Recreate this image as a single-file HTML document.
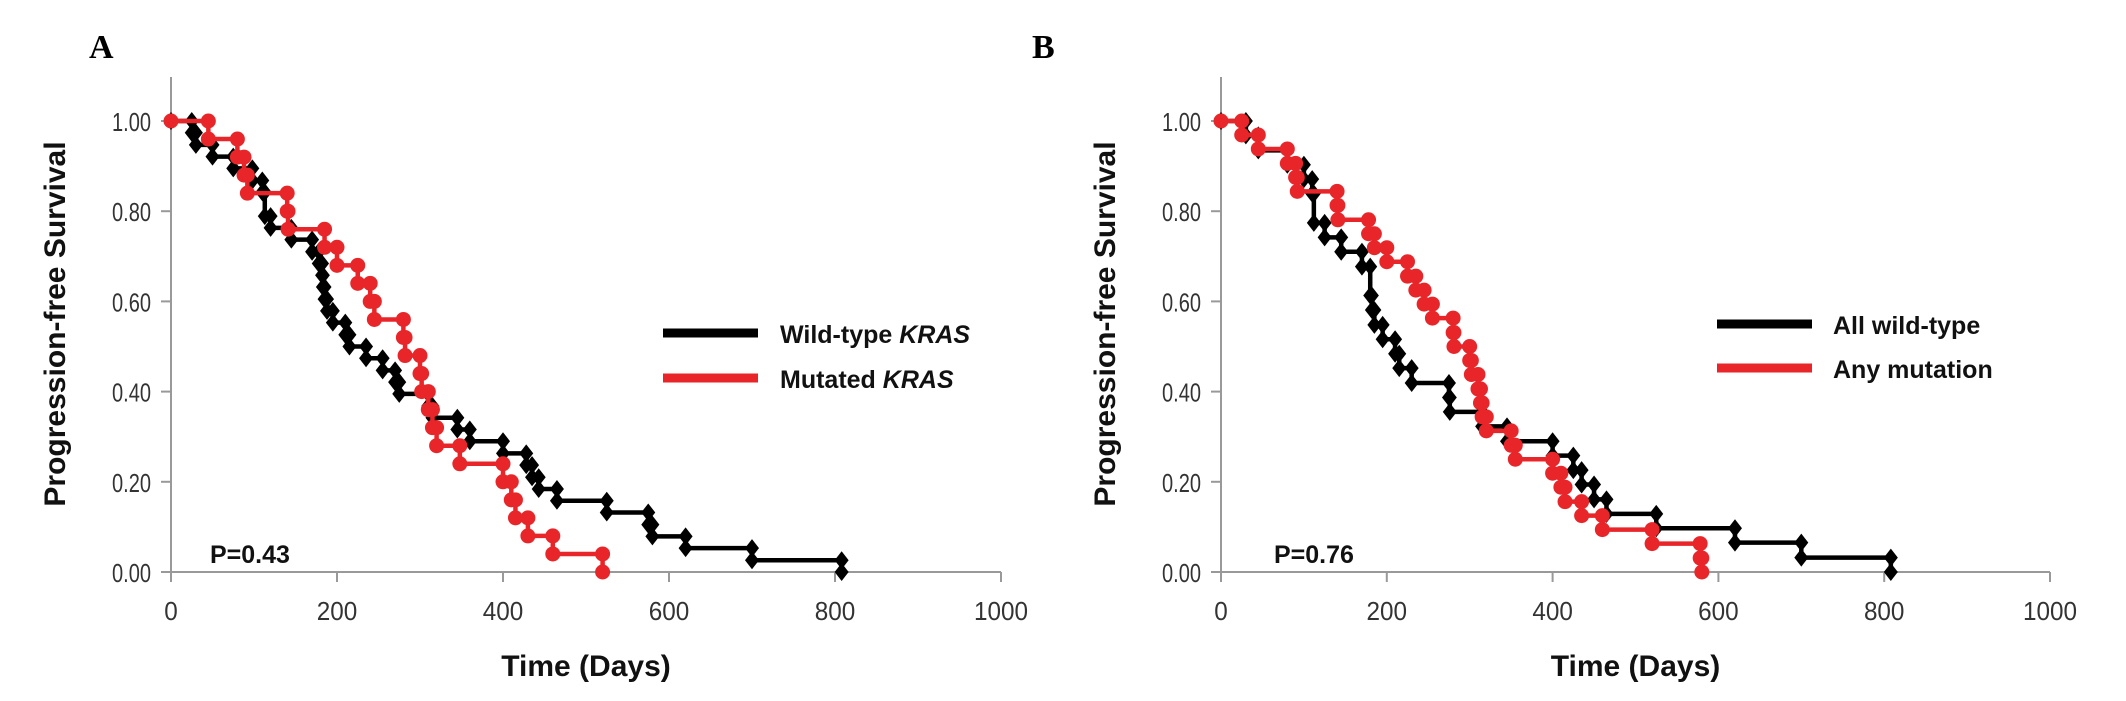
<!DOCTYPE html>
<html><head><meta charset="utf-8"><style>
html,body{margin:0;padding:0;background:#fff;}
svg{display:block;}
.tick{font-family:"Liberation Sans Narrow","Liberation Sans",sans-serif;font-size:26px;fill:#333;}
.title{font-family:"Liberation Sans",sans-serif;font-weight:bold;font-size:30px;fill:#111;}
.ytitle{font-family:"Liberation Sans",sans-serif;font-weight:bold;font-size:30px;fill:#111;}
.leg{font-family:"Liberation Sans",sans-serif;font-weight:bold;font-size:25px;fill:#111;}
.pl{font-family:"Liberation Serif",serif;font-weight:bold;font-size:34px;fill:#000;}
</style></head><body>
<svg id="chart" width="2126" height="701" viewBox="0 0 2126 701">
<text class="pl" x="89" y="58">A</text>
<text class="pl" x="1032" y="58">B</text>
</svg>
<script>
const xTicks=[0,200,400,600,800,1000];
const yTicks=[0,0.2,0.4,0.6,0.8,1.0];
const yTickLabels=["0.00","0.20","0.40","0.60","0.80","1.00"];
const aBlackT=[25,30,50,75,98,110,113,120,145,170,178,182,183,185,188,195,210,215,235,255,270,275,310,315,345,360,400,428,435,443,465,525,575,580,620,700,808];
const aBlackS=[0.974,0.947,0.921,0.895,0.868,0.842,0.789,0.763,0.737,0.71,0.684,0.658,0.632,0.605,0.579,0.553,0.526,0.5,0.474,0.447,0.421,0.395,0.368,0.342,0.316,0.29,0.263,0.237,0.21,0.184,0.158,0.132,0.105,0.079,0.053,0.026,0];
const aRedT=[45,80,88,92,140,141,185,200,225,240,245,280,282,300,302,310,315,320,348,400,410,415,430,460,520];
const aRedS=[0.96,0.92,0.88,0.84,0.80,0.76,0.72,0.68,0.64,0.60,0.56,0.52,0.48,0.44,0.40,0.36,0.32,0.28,0.24,0.20,0.16,0.12,0.08,0.04,0];
const bBlackT=[30,45,80,100,110,112,125,145,170,180,182,185,195,210,215,230,275,276,315,345,400,425,435,450,465,525,620,700,808];
const bBlackS=[0.968,0.935,0.903,0.871,0.839,0.774,0.742,0.71,0.677,0.613,0.581,0.548,0.516,0.484,0.452,0.419,0.387,0.355,0.323,0.29,0.258,0.226,0.194,0.161,0.129,0.097,0.065,0.032,0];
const bRedT=[25,45,80,90,92,140,141,178,185,200,225,235,245,255,280,281,300,302,310,313,315,320,350,355,400,410,415,435,460,520,578,580];
const bRedS=[0.969,0.938,0.906,0.875,0.844,0.813,0.781,0.75,0.719,0.688,0.656,0.625,0.594,0.563,0.531,0.5,0.469,0.438,0.406,0.375,0.344,0.313,0.281,0.25,0.219,0.188,0.156,0.125,0.094,0.063,0.031,0];
const panels=[
 {id:'a',x0:171,x1:1001,legend:['Wild-type ','KRAS','Mutated ','KRAS'],lx:663,ltx:780,ly:[333,378],p:'P=0.43',px:210,series:[[aBlackT,aBlackS,'#000','diamond'],[aRedT,aRedS,'#e8262a','circle']]},
 {id:'b',x0:1221,x1:2050,legend:['All wild-type','','Any mutation',''],lx:1717,ltx:1833,ly:[324,368],p:'P=0.76',px:1274,series:[[bBlackT,bBlackS,'#000','diamond'],[bRedT,bRedS,'#e8262a','circle']]}
];
const NS='http://www.w3.org/2000/svg';
const svg=document.getElementById('chart');
const y1=121,y0=572;
function el(tag,attrs,parent){const e=document.createElementNS(NS,tag);for(const k in attrs)e.setAttribute(k,attrs[k]);(parent||svg).appendChild(e);return e;}
panels.forEach(P=>{
 const xs=t=>P.x0+(P.x1-P.x0)*t/1000;
 const ys=v=>y0-(y0-y1)*v;
 const g=el('g',{});
 
 
 const ax=el('line',{x1:P.x0,y1:77,x2:P.x0,y2:y0,stroke:'#999','stroke-width':2},g);
 
 
 const bx=el('line',{x1:P.x0,y1:y0,x2:P.x1,y2:y0,stroke:'#999','stroke-width':2},g);
 
 
 xTicks.forEach(t=>{
  el('line',{x1:xs(t),y1:y0,x2:xs(t),y2:y0+10,stroke:'#999','stroke-width':2},g);
  const s=String(t);
  const tx=el('text',{x:xs(t),y:620,'text-anchor':'middle',class:'tick',textLength:s.length*13.5,lengthAdjust:'spacingAndGlyphs'},g);
  tx.textContent=s;
  
  
 });
 yTicks.forEach((v,i)=>{
  el('line',{x1:P.x0-10,y1:ys(v),x2:P.x0,y2:ys(v),stroke:'#999','stroke-width':2},g);
  const tx=el('text',{x:P.x0-20,y:ys(v)+10,'text-anchor':'end',class:'tick',textLength:39,lengthAdjust:'spacingAndGlyphs'},g);
  tx.textContent=yTickLabels[i];
  
  
 });
 const xt=el('text',{x:(P.x0+P.x1)/2,y:676,'text-anchor':'middle',class:'title'},g);
 xt.textContent='Time (Days)';
 
 
 const yt=el('text',{x:0,y:0,'text-anchor':'middle',class:'ytitle',transform:`translate(${P.x0-106},324) rotate(-90)`},g);
 yt.textContent='Progression-free Survival';
 
 
 const pv=el('text',{x:P.px,y:563,class:'leg'},g);
 pv.textContent=P.p;
 
 
 P.series.forEach((s,si)=>{
  const [T,S,col,mk]=s;
  let d=`M${xs(0)},${ys(1)}`;let prev=1;const pts=[[0,1]];
  T.forEach((t,i)=>{d+=` H${xs(t)} V${ys(S[i])}`;pts.push([t,prev]);pts.push([t,S[i]]);prev=S[i];});
  const path=el('path',{d:d,fill:'none',stroke:col,'stroke-width':4.5},g);
  
  
  pts.forEach(p=>{
   const cx=xs(p[0]),cy=ys(p[1]);let m;
   if(mk==='diamond'){m=el('polygon',{points:`${cx},${cy-9} ${cx+7},${cy} ${cx},${cy+9} ${cx-7},${cy}`,fill:col},g);}
   else{m=el('circle',{cx:cx,cy:cy,r:7.5,fill:col},g);}
   
   
  });
  const ll=el('line',{x1:P.lx,y1:P.ly[si],x2:P.lx+95,y2:P.ly[si],stroke:col,'stroke-width':9},g);
  
  
  const lt=el('text',{x:P.ltx,y:P.ly[si]+10,class:'leg'},g);
  
  
  const t1=el('tspan',{},lt);t1.textContent=P.legend[si*2];
  if(P.legend[si*2+1]){const t2=el('tspan',{'font-style':'italic'},lt);t2.textContent=P.legend[si*2+1];}
 });
});
</script>
</body></html>
